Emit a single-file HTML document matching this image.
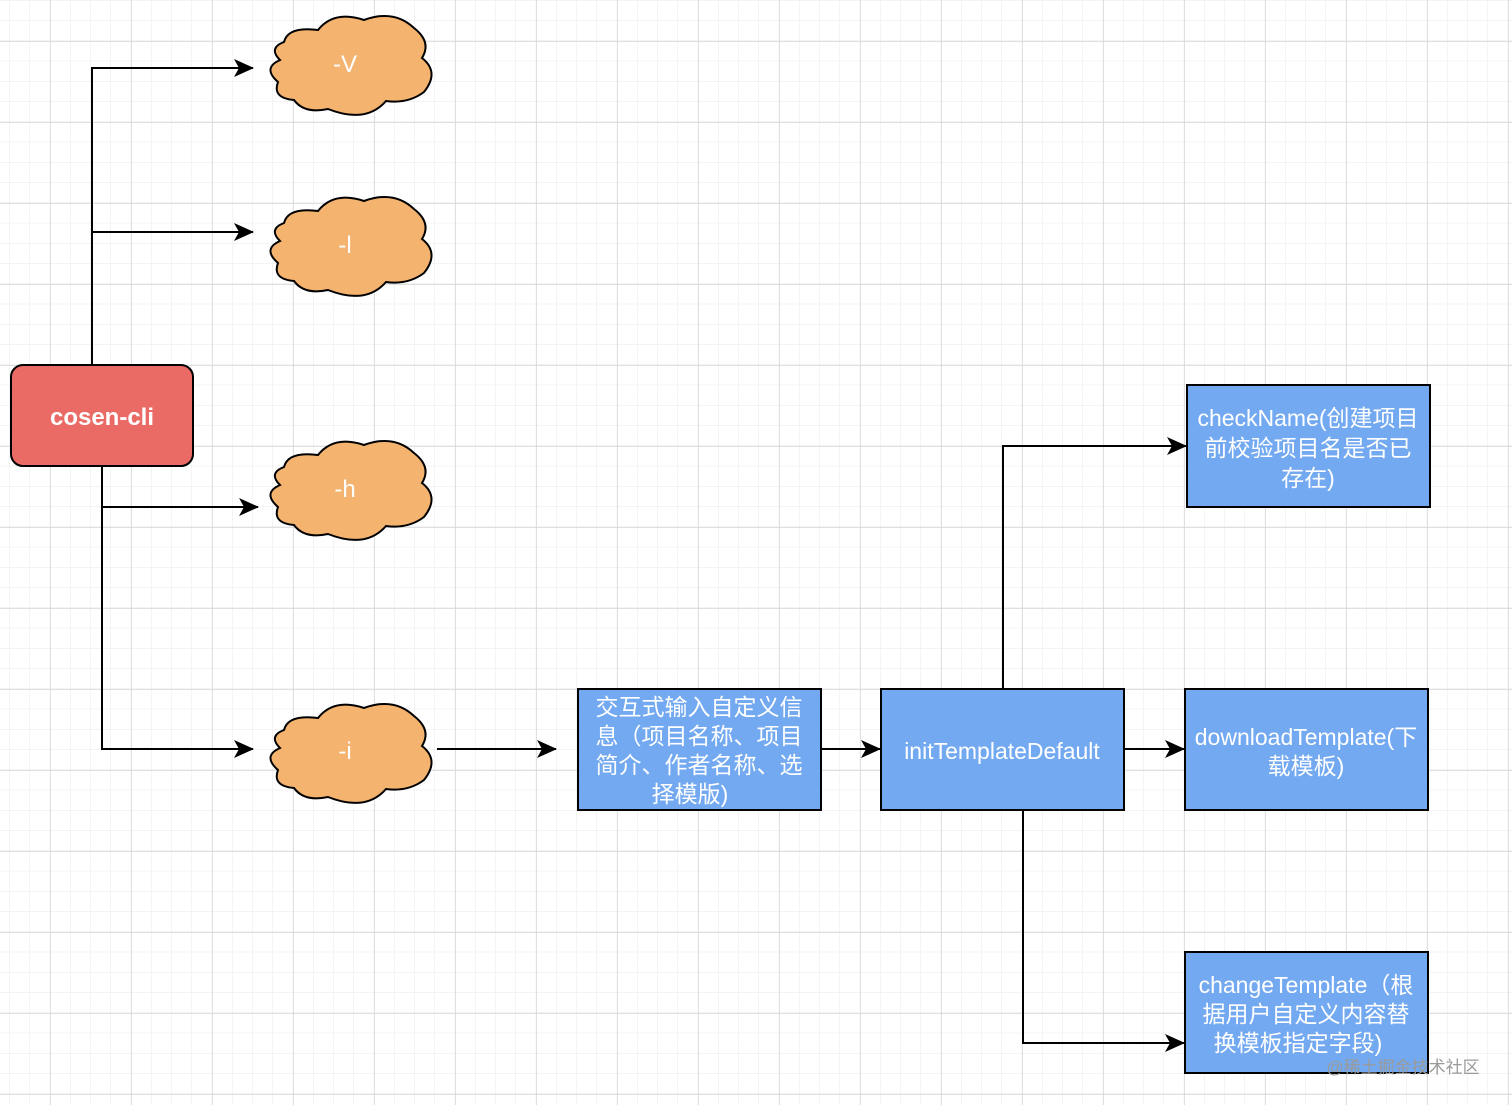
<!DOCTYPE html>
<html><head><meta charset="utf-8"><style>
html,body{margin:0;padding:0;background:#fff;}
svg{display:block}
text{font-family:"Liberation Sans","Noto Sans CJK SC",sans-serif;fill:#fff;text-anchor:middle}
</style></head><body>
<svg width="1512" height="1105" viewBox="0 0 1512 1105" xmlns="http://www.w3.org/2000/svg">
<defs>
<pattern id="minor" x="9.75" y="0.5" width="20.25" height="20.25" patternUnits="userSpaceOnUse">
<path d="M20.25 0V20.25M0 20.25H20.25" stroke="#e8e8e8" stroke-width="1" fill="none"/>
</pattern>
<pattern id="major" x="50" y="41" width="81" height="81" patternUnits="userSpaceOnUse">
<path d="M0 0V81M0 0H81" stroke="#d6d6d6" stroke-width="1.5" fill="none"/>
</pattern>
<marker id="ar" markerWidth="22" markerHeight="20" refX="19" refY="9" orient="auto" markerUnits="userSpaceOnUse">
<path d="M0,0 L20,9 L0,18 L5,9 Z" fill="#000"/>
</marker>
<path id="cloud" d="M18,30 Q22,14 52,18 Q68,-2 98,8 Q128,-3 148,16 Q166,30 156,46 Q174,60 158,80 Q142,92 120,89 Q100,112 62,97 Q38,102 28,88 Q6,86 12,70 Q-4,56 14,48 Q2,36 18,30 Z" fill="#F4B36E" stroke="#000" stroke-width="2"/>
</defs>
<rect width="1512" height="1105" fill="url(#minor)"/>
<rect width="1512" height="1105" fill="url(#major)"/>

<g stroke="#000" stroke-width="2" fill="none">
<path d="M92 365V68H253" marker-end="url(#ar)"/>
<path d="M92 232H253" marker-end="url(#ar)"/>
<path d="M102 466V749H253" marker-end="url(#ar)"/>
<path d="M102 507H258" marker-end="url(#ar)"/>
<path d="M437 749H556" marker-end="url(#ar)"/>
<path d="M821 749H880" marker-end="url(#ar)"/>
<path d="M1124 749H1184" marker-end="url(#ar)"/>
<path d="M1003 689V446H1186" marker-end="url(#ar)"/>
<path d="M1023 810V1043H1184" marker-end="url(#ar)"/>
</g>

<use href="#cloud" x="266" y="12"/>
<use href="#cloud" x="266" y="193"/>
<use href="#cloud" x="266" y="437"/>
<use href="#cloud" x="266" y="700"/>
<text x="345" y="72" font-size="24">-V</text>
<text x="345" y="253" font-size="24">-l</text>
<text x="345" y="497" font-size="24">-h</text>
<text x="345" y="759" font-size="24">-i</text>

<rect x="11" y="365" width="182" height="101" rx="12" fill="#EA6B66" stroke="#000" stroke-width="2"/>
<text x="102" y="425" font-size="24" font-weight="bold">cosen-cli</text>

<g fill="#73A9F0" stroke="#000" stroke-width="2">
<rect x="578" y="689" width="243" height="121"/>
<rect x="881" y="689" width="243" height="121"/>
<rect x="1187" y="385" width="243" height="122"/>
<rect x="1185" y="689" width="243" height="121"/>
<rect x="1185" y="952" width="243" height="121"/>
</g>
<g font-size="23">
<text x="699" y="715">交互式输入自定义信</text>
<text x="699" y="744">息（项目名称、项目</text>
<text x="699" y="773">简介、作者名称、选</text>
<text x="690" y="802">择模版)</text>
<text x="1002" y="759">initTemplateDefault</text>
<text x="1308" y="426">checkName(创建项目</text>
<text x="1308" y="456">前校验项目名是否已</text>
<text x="1308" y="486">存在)</text>
<text x="1306" y="745">downloadTemplate(下</text>
<text x="1306" y="774">载模板)</text>
<text x="1306" y="993">changeTemplate（根</text>
<text x="1306" y="1022">据用户自定义内容替</text>
<text x="1298" y="1051">换模板指定字段)</text>
</g>
<text x="1403" y="1073" font-size="17" style="fill:#9a9a9a">@稀土掘金技术社区</text>
</svg>
</body></html>
